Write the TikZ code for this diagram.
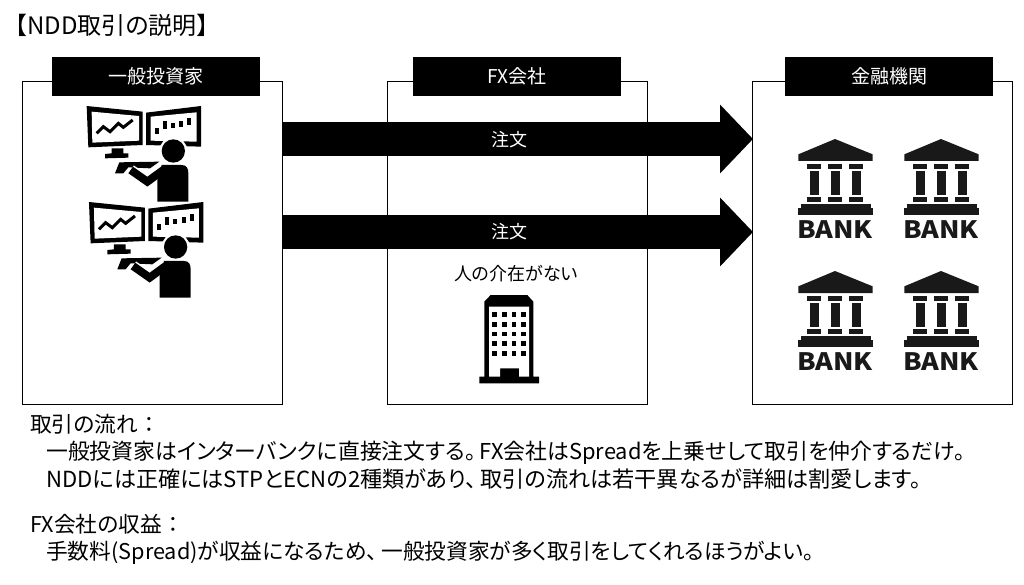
\documentclass[tikz,border=0pt]{standalone}
\usepackage{fontspec}
\setmainfont[RawFeature=+palt]{Noto Sans CJK JP}
\usetikzlibrary{arrows.meta}

\tikzset{
	panel/.style={draw=black,line width=0.8pt,fill=white},
	header/.style={fill=black,text=white,font=\fontsize{19}{21}\selectfont,minimum width=208pt,minimum height=39pt,inner sep=0pt},
	order/.style={line width=34pt,black,-{Triangle[length=33pt,width=67pt]}},
	orderlabel/.style={text=white,font=\fontsize{18}{20}\selectfont,inner sep=0pt},
	body/.style={anchor=base west,inner sep=0pt,font=\fontsize{21.7}{24}\selectfont},
	banktext/.style={inner sep=0pt,xscale=1.12,font=\fontsize{24}{26}\bfseries\selectfont,text=black!90}
}

\newcommand{\monitorpair}{%
	\fill (80,48) -- (248,65) -- (248,165) -- (85,172) -- cycle;
	\fill[white] (95,65) -- (237,78) -- (237,152) -- (97,158) -- cycle;
	\fill (258,68) -- (423,48) -- (423,170) -- (258,165) -- cycle;
	\fill[white] (272,80) -- (410,67) -- (410,155) -- (272,152) -- cycle;
	\draw[line width=3pt] (110,130) -- (130,110) -- (150,125) -- (175,100) -- (190,112) -- (218,90);
	\fill (284,115) rectangle (296,132);
	\fill (308,93) rectangle (320,118);
	\fill (332,98) rectangle (344,115);
	\fill (358,92) rectangle (370,110);
	\fill (382,83) rectangle (394,105);
	\fill (155,175) -- (190,175) -- (190,190) -- (205,190) -- (205,203) -- (135,205) -- (135,192) -- (155,190) -- cycle;
}
\newcommand{\traderfig}[2]{%
	\begin{scope}[shift={(#1,#2)},scale=1/3]
		\monitorpair
		\fill[white] (340,183) circle (42);
		\fill (340,183) circle (35);
		\fill (178,217) -- (298,215) -- (270,235) -- (205,232) -- (190,250) -- (165,250) -- cycle;
		\draw[white,line width=11pt] (212,240) -- (262,275) -- (310,240);
		\draw[line width=8pt] (212,240) -- (262,275) -- (310,240);
		\fill (305,225) -- (365,225) .. controls (380,225) and (385,235) .. (385,250) -- (385,335) -- (292,335) -- (292,270) -- cycle;
	\end{scope}
}
\newcommand{\bankfig}[2]{%
	\begin{scope}[shift={(#1,#2)},scale=1/3,black!90]
		\fill (165,57) -- (278,103) -- (278,123) -- (55,123) -- (55,103) -- cycle;
		\foreach \cx in {103,166,229} {
			\fill (\cx-21,133) rectangle (\cx+21,148);
			\fill (\cx-13,154) rectangle (\cx+13,224);
			\fill (\cx-21,230) rectangle (\cx+21,245);
		}
		\fill (63,253) rectangle (272,265);
		\fill (53,265) rectangle (279,284);
		\node[banktext] at (165,329) {BANK};
	\end{scope}
}

\begin{document}
\begin{tikzpicture}[x=1pt,y=-1pt]
	\useasboundingbox (0,0) rectangle (1024,585);
	\node[anchor=base west,inner sep=0pt,font=\fontsize{24}{26}\selectfont] (title) at (15,35) {【NDD取引の説明】};
	%
	\draw[panel] (22,81) rectangle (282,404);
	\draw[panel] (387,81) rectangle (647,404);
	\draw[panel] (752,81) rectangle (1012,404);
	\coordinate (investor) at (282,139);
	\coordinate (bank) at (753,139);
	\coordinate (investor') at (282,232);
	\coordinate (bank') at (753,232);
	%
	\node[header] (H1) at (156,76.5) {一般投資家};
	\node[header] (H2) at (517,76.5) {FX会社};
	\node[header] (H3) at (889,76.5) {金融機関};
	%
	\draw[order] (investor) -- (bank);
	\draw[order] (investor') -- (bank');
	\node[orderlabel] (O1) at (509,140) {注文};
	\node[orderlabel] (O2) at (509,232) {注文};
	%
	\traderfig{60}{90}
	\traderfig{62.3}{186}
	%
	\foreach \dx in {0,106} {
		\foreach \dy in {0,132} {
			\bankfig{780+\dx}{120+\dy}
		}
	}
	%
	\node[inner sep=0pt,font=\fontsize{18}{20}\selectfont] (none) at (516,274) {人の介在がない};
	\begin{scope}[shift={(440,250)},scale=1/3]
		\fill (133,155) -- (152,135) -- (262,135) -- (280,155) -- (280,380) -- (297,380) -- (297,400) -- (118,400) -- (118,380) -- (133,380) -- cycle;
		\fill[white] (147,170) -- (267,170) -- (267,380) -- (237,380) -- (237,355) -- (180,355) -- (180,380) -- (147,380) -- cycle;
		\foreach \wx in {157,186,215,244} {
			\foreach \wy in {187,216,245,274,303} {
				\fill (\wx,\wy) rectangle (\wx+14,\wy+14);
			}
		}
	\end{scope}
	%
	\node[body] (T1) at (30,432) {取引の流れ\kern6pt：};
	\node[body,font=\fontsize{21.85}{24}\selectfont] (T2) at (46,459) {一般投資家はインターバンクに直接注文する。\kern4pt FX会社はSpreadを上乗せして取引を仲介するだけ。};
	\node[body,font=\fontsize{22.15}{24}\selectfont] (T3) at (46,487) {NDDには正確にはSTPとECNの2種類があり、\kern4pt 取引の流れは若干異なるが詳細は割愛します。};
	\node[body] (T4) at (30,532) {FX会社の収益\kern6pt：};
	\node[body] (T5) at (46,559) {手数料(Spread)が収益になるため、\kern4pt 一般投資家が多く取引をしてくれるほうがよい。};
\end{tikzpicture}
\end{document}
